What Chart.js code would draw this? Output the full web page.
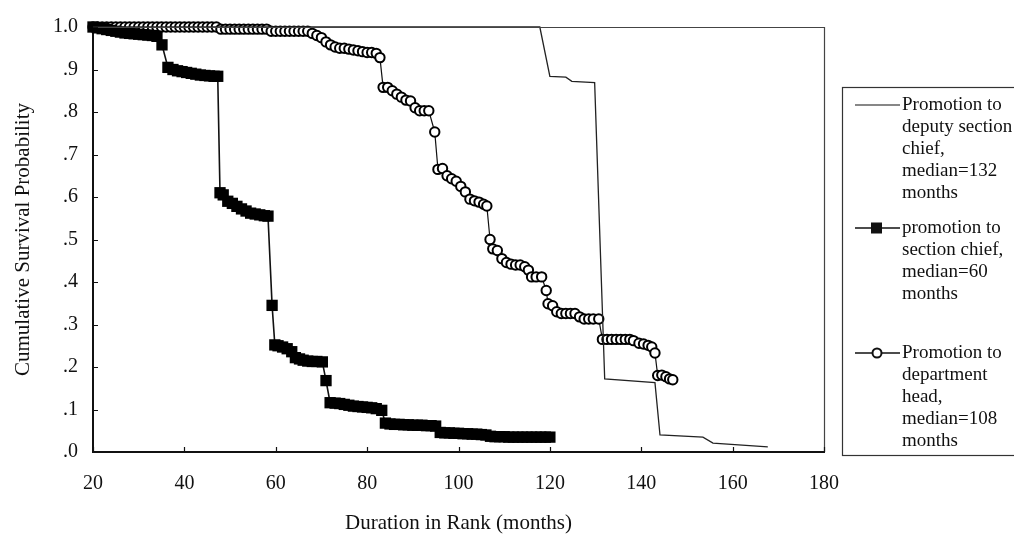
<!DOCTYPE html>
<html>
<head>
<meta charset="utf-8">
<script src="https://cdn.jsdelivr.net/npm/chart.js@4/dist/chart.umd.min.js"></script>
<style>
  html, body { margin: 0; padding: 0; background: #fff; }
  #wrap { width: 1014px; height: 538px; position: relative; }
</style>
</head>
<body>
<div id="wrap"><canvas id="survivalChart"></canvas></div>
<script>
// Promotion to deputy section chief (plain line)
const deputyMonths = [20, 117.8, 120, 123.5, 124.8, 129.8, 132, 143, 144.1, 153.5, 155.7, 167.7];
const deputySurvival = [1, 1, .884, .882, .872, .869, .172, .163, .04, .035, .021, .012];

// promotion to section chief (filled squares)
const sectionMonths = [20, 21, 22, 23, 24, 25, 26, 27, 28, 29, 30, 31, 32, 33, 34,
  35.1,
  36.4, 37.5, 38.5, 39.5, 40.5, 41.5, 42.5, 43.5, 44.5, 45.5, 46.5, 47.3,
  47.8, 48.5, 49.5, 50.5, 51.5, 52.5, 53.5, 54.5, 55.5, 56.5, 57.5, 58.3,
  59.2,
  59.8, 60.5, 61.5, 62.5, 63.5, 64.3, 65.2, 66, 67, 68, 69, 70.2,
  71,
  71.9, 73, 74, 75, 76, 77, 78, 79, 80, 81, 82, 83.2,
  84, 85, 86, 87, 88, 89, 90, 91, 92, 93, 94, 95,
  96, 97, 98, 99, 100, 101, 102, 103, 104, 105, 106,
  107, 108, 109, 110, 111, 112, 113, 114, 115, 116, 117, 118, 119, 120];
const sectionSurvival = [1, .998, .996, .994, .992, .99, .988, .986, .985, .984, .983, .982, .981, .98, .978,
  .958,
  .905, .9, .897, .895, .893, .891, .889, .887, .886, .885, .884, .884,
  .61, .605, .59, .585, .578, .572, .567, .562, .56, .558, .556, .555,
  .345,
  .252, .25, .247, .243, .236, .222, .219, .216, .214, .213, .213, .212,
  .168,
  .116, .115, .114, .112, .11, .108, .107, .106, .105, .104, .102, .098,
  .068, .066, .065, .065, .064, .064, .063, .063, .063, .062, .062, .061,
  .046, .045, .045, .044, .044, .043, .043, .042, .042, .041, .04,
  .037, .036, .036, .036, .035, .035, .035, .035, .035, .035, .035, .035, .035, .035];

// Promotion to department head (open circles)
const headMonths = [20, 21, 22, 23, 24, 25, 26, 27, 28, 29, 30, 31, 32, 33, 34, 35, 36, 37, 38, 39, 40, 41, 42, 43, 44, 45, 46, 47,
  48, 49, 50, 51, 52, 53, 54, 55, 56, 57, 58,
  59, 60, 61, 62, 63, 64, 65, 66, 67,
  68, 69, 70, 71, 72, 73, 74, 75, 76, 77, 78, 79, 80, 81, 82, 82.8,
  83.5, 84.5, 85.5, 86.5, 87.5, 88.5, 89.5, 90.5, 91.5, 92.5, 93.5, 94.8,
  95.5, 96.5, 97.5, 98.5, 99.5, 100.5, 101.5, 102.5, 103.5, 104.5, 105.5, 106.2,
  106.9, 107.5, 108.5, 109.5, 110.5, 111.5, 112.5, 113.5, 114.5, 115.3, 116, 117, 118.2, 119.2, 119.6,
  120.6, 121.5, 122.5, 123.5, 124.5, 125.5, 126.5, 127.5, 128.5, 129.5, 130.7,
  131.5, 132.5, 133.5, 134.5, 135.5, 136.5, 137.5, 138.3, 139.5, 140.5, 141.5, 142.3, 143,
  143.6, 144.5, 145.4, 146.2, 146.9];
const headSurvival = [1, 1, 1, 1, 1, 1, 1, 1, 1, 1, 1, 1, 1, 1, 1, 1, 1, 1, 1, 1, 1, 1, 1, 1, 1, 1, 1, 1,
  .995, .995, .995, .995, .995, .995, .995, .995, .995, .995, .995,
  .99, .99, .99, .99, .99, .99, .99, .99, .99,
  .985, .98, .975, .965, .958, .953, .95, .95, .948, .946, .944, .942, .94, .94, .938, .928,
  .858, .858, .85, .842, .835, .828, .826, .81, .803, .803, .803, .753,
  .665, .667, .65, .643, .637, .625, .612, .595, .591, .588, .583, .579,
  .5, .478, .474, .455, .446, .442, .44, .44, .436, .428, .412, .412, .412, .38, .349,
  .344, .33, .326, .326, .326, .326, .318, .313, .313, .313, .313,
  .265, .265, .265, .265, .265, .265, .265, .262, .256, .254, .251, .247, .233,
  .18, .181, .177, .172, .17];

const yTickLabels = ['.0', '.1', '.2', '.3', '.4', '.5', '.6', '.7', '.8', '.9', '1.0'];
const xTickValues = [20, 40, 60, 80, 100, 120, 140, 160, 180];

const legendDeputy = ['Promotion to', 'deputy section', 'chief,', 'median=132', 'months'];
const legendSection = ['promotion to', 'section chief,', 'median=60', 'months'];
const legendHead = ['Promotion to', 'department', 'head,', 'median=108', 'months'];

const serif = "'Liberation Serif', 'Times New Roman', serif";
const ink = '#111';

function toPoints(xs, ys) {
  return xs.map((x, i) => ({ x: x, y: ys[i] }));
}

// box around the plot, inward tick marks and the side legend
const framePlugin = {
  id: 'frame',
  afterDatasetsDraw(chart) {
    const { ctx, chartArea: a, scales: { x, y } } = chart;
    ctx.save();
    ctx.strokeStyle = '#444';
    ctx.lineWidth = 1.2;
    ctx.beginPath();
    ctx.moveTo(a.left, a.top + 0.5);
    ctx.lineTo(a.right + 0.5, a.top + 0.5);
    ctx.lineTo(a.right + 0.5, a.bottom);
    ctx.stroke();

    ctx.strokeStyle = ink;
    ctx.lineWidth = 1.2;
    ctx.beginPath();
    yTickLabels.forEach((t, i) => {
      const py = Math.round(y.getPixelForValue(i / 10)) + 0.5;
      ctx.moveTo(a.left, py);
      ctx.lineTo(a.left + 5, py);
    });
    xTickValues.forEach(v => {
      const px = Math.round(x.getPixelForValue(v)) + 0.5;
      ctx.moveTo(px, a.bottom);
      ctx.lineTo(px, a.bottom - 5);
    });
    ctx.stroke();
    ctx.restore();
  },
  afterDraw(chart) {
    const ctx = chart.ctx;
    ctx.save();
    ctx.strokeStyle = '#333';
    ctx.lineWidth = 1.2;
    ctx.strokeRect(842.5, 87.5, 200, 368);

    ctx.font = '19px ' + serif;
    ctx.fillStyle = ink;
    ctx.textBaseline = 'middle';
    ctx.textAlign = 'left';
    const entries = [
      { lines: legendDeputy, top: 105, marker: null },
      { lines: legendSection, top: 228, marker: 'square' },
      { lines: legendHead, top: 353, marker: 'circle' }
    ];
    entries.forEach(e => {
      ctx.strokeStyle = ink;
      ctx.lineWidth = e.marker ? 1.5 : 1.2;
      ctx.beginPath();
      ctx.moveTo(855, e.top);
      ctx.lineTo(900, e.top);
      ctx.stroke();
      if (e.marker === 'square') {
        ctx.fillRect(871, e.top - 5.5, 11, 11);
      } else if (e.marker === 'circle') {
        ctx.beginPath();
        ctx.arc(877, e.top, 4.5, 0, Math.PI * 2);
        ctx.fillStyle = '#fff';
        ctx.fill();
        ctx.lineWidth = 2;
        ctx.stroke();
        ctx.fillStyle = ink;
      }
      e.lines.forEach((t, i) => ctx.fillText(t, 902, e.top + i * 22));
    });
    ctx.restore();
  }
};

const ctx = document.getElementById('survivalChart').getContext('2d');
new Chart(ctx, {
  type: 'scatter',
  data: {
    datasets: [
      {
        label: legendDeputy.join(' '),
        data: toPoints(deputyMonths, deputySurvival),
        showLine: true,
        borderColor: '#222',
        borderWidth: 1.3,
        pointRadius: 0,
        tension: 0,
        clip: false
      },
      {
        label: legendSection.join(' '),
        data: toPoints(sectionMonths, sectionSurvival),
        showLine: true,
        borderColor: ink,
        borderWidth: 1.6,
        pointStyle: 'rect',
        pointRadius: 8,
        pointBackgroundColor: '#000',
        pointBorderWidth: 0,
        tension: 0,
        clip: false
      },
      {
        label: legendHead.join(' '),
        data: toPoints(headMonths, headSurvival),
        showLine: true,
        borderColor: ink,
        borderWidth: 1.2,
        pointStyle: 'circle',
        pointRadius: 4.7,
        pointBackgroundColor: '#fff',
        pointBorderColor: '#000',
        pointBorderWidth: 2,
        tension: 0,
        clip: false
      }
    ]
  },
  options: {
    responsive: true,
    maintainAspectRatio: false,
    animation: false,
    layout: { padding: { top: 22, right: 190, left: 0, bottom: 0 } },
    plugins: {
      legend: { display: false },
      tooltip: { enabled: false }
    },
    scales: {
      x: {
        type: 'linear',
        min: 20,
        max: 180,
        afterFit: s => { s.height = 86; },
        afterBuildTicks: s => { s.ticks = xTickValues.map(v => ({ value: v })); },
        grid: { display: false, drawTicks: false },
        border: { display: true, color: ink, width: 2 },
        ticks: {
          padding: 20,
          color: ink,
          font: { family: serif, size: 20 },
          maxRotation: 0
        },
        title: {
          display: true,
          text: 'Duration in Rank (months)',
          color: ink,
          font: { family: serif, size: 21 },
          padding: { top: 0, bottom: 2 }
        }
      },
      y: {
        type: 'linear',
        min: 0,
        max: 1,
        afterFit: s => { s.width = 93; },
        afterBuildTicks: s => { s.ticks = yTickLabels.map((t, i) => ({ value: i / 10 })); },
        grid: { display: false, drawTicks: false },
        border: { display: true, color: ink, width: 2 },
        ticks: {
          padding: 15,
          color: ink,
          font: { family: serif, size: 20 },
          callback: (v, i) => yTickLabels[i]
        },
        title: {
          display: true,
          text: 'Cumulative Survival Probability',
          color: ink,
          font: { family: serif, size: 21 },
          padding: { top: 11, bottom: 0 }
        }
      }
    }
  },
  plugins: [framePlugin]
});
</script>
</body>
</html>
